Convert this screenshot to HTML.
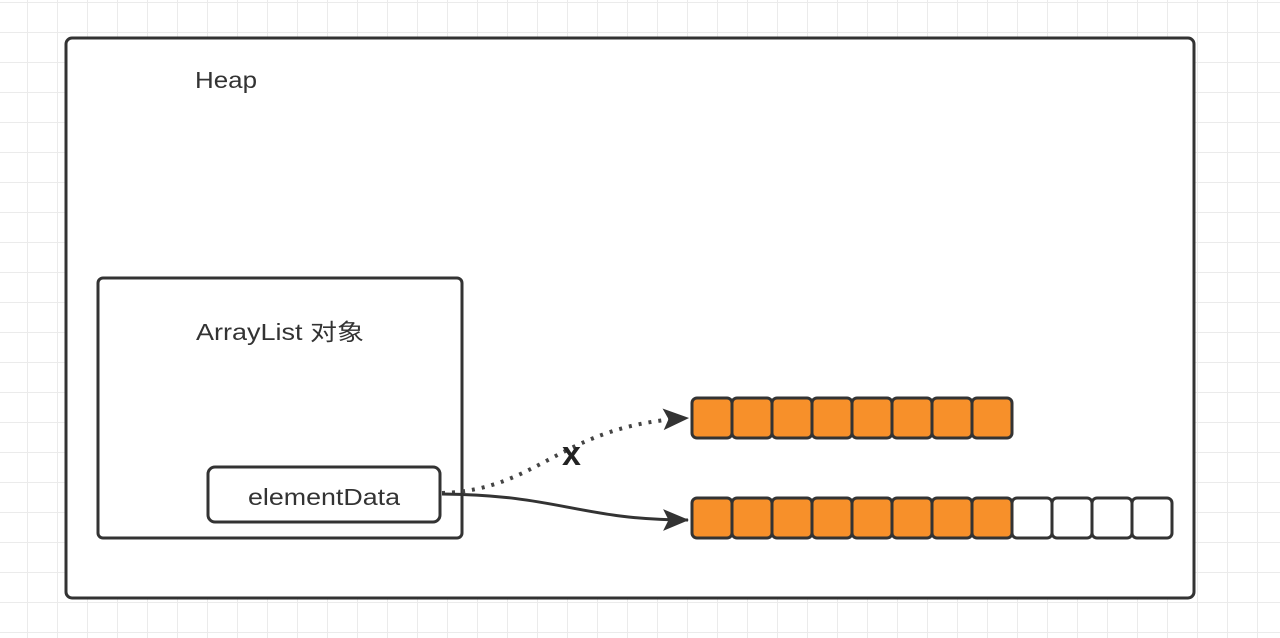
<!DOCTYPE html>
<html><head><meta charset="utf-8"><style>
body{margin:0;width:1280px;height:638px;overflow:hidden;background:#fff;
background-image:linear-gradient(#ebebeb 1px,transparent 1px),linear-gradient(90deg,#ebebeb 1px,transparent 1px);
background-size:30px 30px;background-position:27px 2px;}
</style></head><body>
<svg width="1280" height="638" style="position:absolute;left:0;top:0" font-family="'Liberation Sans','Noto Sans CJK SC',sans-serif">
<defs>
<marker id="b" viewBox="0 0 24 20" refX="23" refY="10" markerWidth="26" markerHeight="22" orient="auto" markerUnits="userSpaceOnUse"><path d="M0,0 L24,10 L0,20 L5,10 z" fill="#333"/></marker></defs>
<rect x="66" y="38" width="1128" height="560" rx="6" fill="#fff" stroke="#333" stroke-width="3"/>
<text x="195" y="88" font-size="23" fill="#333" textLength="62" lengthAdjust="spacingAndGlyphs">Heap</text>
<rect x="98" y="278" width="364" height="260" rx="5" fill="#fff" stroke="#333" stroke-width="3"/>
<text x="196" y="340" font-size="23" fill="#333" textLength="168" lengthAdjust="spacingAndGlyphs">ArrayList 对象</text>
<rect x="208" y="467" width="232" height="55" rx="7" fill="#fff" stroke="#333" stroke-width="3"/>
<text x="248" y="505" font-size="23" fill="#333" textLength="152" lengthAdjust="spacingAndGlyphs">elementData</text>
<path d="M442,493 C540,490 560,425 688,418" fill="none" stroke="#444" stroke-width="4" stroke-dasharray="3 7" marker-end="url(#b)"/>
<path d="M442,494 C560,495 580,520 688,520" fill="none" stroke="#333" stroke-width="3" marker-end="url(#b)"/>
<text x="562" y="465" font-size="34" font-weight="bold" fill="#222">x</text>
<g stroke="#333" stroke-width="3">
<rect x="692" y="398" width="40" height="40" rx="5" fill="#f7902a"/>
<rect x="732" y="398" width="40" height="40" rx="5" fill="#f7902a"/>
<rect x="772" y="398" width="40" height="40" rx="5" fill="#f7902a"/>
<rect x="812" y="398" width="40" height="40" rx="5" fill="#f7902a"/>
<rect x="852" y="398" width="40" height="40" rx="5" fill="#f7902a"/>
<rect x="892" y="398" width="40" height="40" rx="5" fill="#f7902a"/>
<rect x="932" y="398" width="40" height="40" rx="5" fill="#f7902a"/>
<rect x="972" y="398" width="40" height="40" rx="5" fill="#f7902a"/>
<rect x="692" y="498" width="40" height="40" rx="5" fill="#f7902a"/>
<rect x="732" y="498" width="40" height="40" rx="5" fill="#f7902a"/>
<rect x="772" y="498" width="40" height="40" rx="5" fill="#f7902a"/>
<rect x="812" y="498" width="40" height="40" rx="5" fill="#f7902a"/>
<rect x="852" y="498" width="40" height="40" rx="5" fill="#f7902a"/>
<rect x="892" y="498" width="40" height="40" rx="5" fill="#f7902a"/>
<rect x="932" y="498" width="40" height="40" rx="5" fill="#f7902a"/>
<rect x="972" y="498" width="40" height="40" rx="5" fill="#f7902a"/>
<rect x="1012" y="498" width="40" height="40" rx="5" fill="#fff"/>
<rect x="1052" y="498" width="40" height="40" rx="5" fill="#fff"/>
<rect x="1092" y="498" width="40" height="40" rx="5" fill="#fff"/>
<rect x="1132" y="498" width="40" height="40" rx="5" fill="#fff"/>
</g>
</svg>
</body></html>
